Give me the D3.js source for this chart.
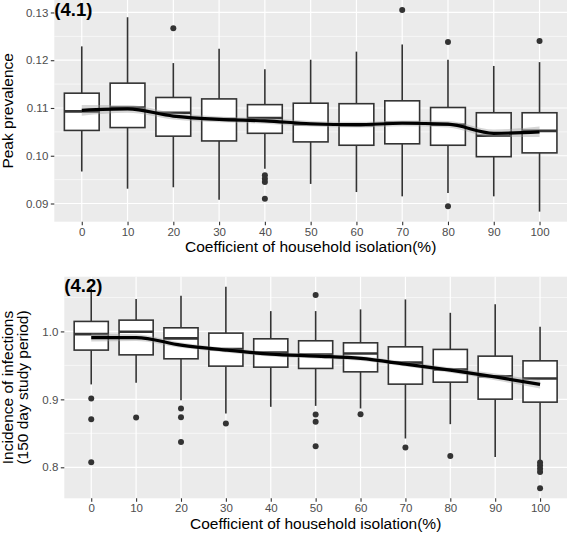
<!DOCTYPE html>
<html>
<head>
<meta charset="utf-8">
<script src="https://cdn.jsdelivr.net/npm/d3@7"></script>
<style>
  html, body { margin: 0; padding: 0; background: #ffffff; }
  svg { display: block; }
  text { font-family: "Liberation Sans", Arial, Helvetica, sans-serif; }
</style>
</head>
<body>
<div id="chart"></div>
<script>
// ---------------- DATA ----------------
const categories = ["0", "10", "20", "30", "40", "50", "60", "70", "80", "90", "100"];
const xAxisTitle = "Coefficient of household isolation(%)";

// Panel 4.1 : Peak prevalence
const peakLower   = [0.0967, 0.0931, 0.0934, 0.0908, 0.0973, 0.0941, 0.0924, 0.0915, 0.0922, 0.0915, 0.0883];
const peakQ1      = [0.1053, 0.1059, 0.1041, 0.1031, 0.1047, 0.1029, 0.1022, 0.1025, 0.1022, 0.0998, 0.1006];
const peakMedian  = [0.1093, 0.1101, 0.1090, 0.1077, 0.1079, 0.1066, 0.1064, 0.1069, 0.1065, 0.1042, 0.1052];
const peakQ3      = [0.1131, 0.1152, 0.1122, 0.1119, 0.1107, 0.1110, 0.1109, 0.1115, 0.1101, 0.1090, 0.1090];
const peakUpper   = [0.1229, 0.1290, 0.1194, 0.1224, 0.1181, 0.1201, 0.1218, 0.1233, 0.1201, 0.1188, 0.1196];
const peakOutliers = [[], [], [0.1267], [], [0.0959, 0.0952, 0.0945, 0.0910], [], [], [0.1305], [0.1238, 0.0894], [], [0.1240]];
const peakSmooth  = [0.1095, 0.1098, 0.1083, 0.1076, 0.1073, 0.1067, 0.1065, 0.1068, 0.1066, 0.1047, 0.1050];
const peakSE      = [0.0011, 0.0008, 0.0007, 0.0006, 0.0006, 0.0006, 0.0006, 0.0006, 0.0007, 0.0008, 0.0011];
const peakTicks   = [0.09, 0.10, 0.11, 0.12, 0.13];
const peakTickLabels = ["0.09", "0.10", "0.11", "0.12", "0.13"];

// Panel 4.2 : Incidence of infections
const incLower    = [0.9220, 0.9243, 0.8988, 0.8792, 0.8890, 0.8904, 0.8866, 0.8424, 0.8635, 0.8153, 0.8100];
const incQ1       = [0.9725, 0.9655, 0.9597, 0.9489, 0.9474, 0.9455, 0.9405, 0.9224, 0.9253, 0.9003, 0.8959];
const incMedian   = [0.9960, 0.9994, 0.9897, 0.9740, 0.9690, 0.9660, 0.9676, 0.9540, 0.9440, 0.9340, 0.9308];
const incQ3       = [1.0147, 1.0166, 1.0053, 0.9975, 0.9891, 0.9862, 0.9832, 0.9773, 0.9735, 0.9636, 0.9567];
const incUpper    = [1.0630, 1.0476, 1.0524, 1.0657, 1.0299, 1.0299, 1.0324, 1.0471, 1.0274, 1.0398, 1.0068];
const incOutliers = [[0.9013, 0.8708, 0.8075], [0.8733], [0.8866, 0.8738, 0.8374], [0.8645], [], [1.0535, 0.8778, 0.8670, 0.8311], [0.8782], [0.8292], [0.8168], [], [0.8070, 0.8025, 0.7980, 0.7930, 0.7692]];
const incSmooth   = [0.9910, 0.9910, 0.9798, 0.9725, 0.9666, 0.9636, 0.9602, 0.9518, 0.9430, 0.9330, 0.9220];
const incSE       = [0.0060, 0.0050, 0.0040, 0.0035, 0.0035, 0.0035, 0.0035, 0.0035, 0.0040, 0.0050, 0.0060];
const incTicks    = [0.8, 0.9, 1.0];
const incTickLabels = ["0.8", "0.9", "1.0"];

// ---------------- DRAW ----------------
const W = 567, H = 537;
const svg = d3.select("#chart").append("svg").attr("width", W).attr("height", H);

function drawPanel(cfg) {
  const g = svg.append("g");
  const { left, right, top, bottom } = cfg.box;

  const x = d3.scalePoint().domain(categories).range([left, right]).padding(0.6);
  const step = x.step();

  const allVals = [].concat(cfg.lower, cfg.upper, cfg.outliers.flat());
  const [mn, mx] = d3.extent(allVals);
  const pad = (mx - mn) * 0.05;
  const y = d3.scaleLinear().domain([mn - pad, mx + pad]).range([bottom, top]);

  // panel background
  g.append("rect").attr("x", left).attr("y", top).attr("width", right - left).attr("height", bottom - top)
    .attr("fill", "#EBEBEB");

  // minor gridlines
  const dt = cfg.ticks[1] - cfg.ticks[0];
  const minor = [];
  for (let i = -1; i < cfg.ticks.length; i++) {
    const v = cfg.ticks[0] + dt * (i + 0.5);
    if (v > y.domain()[0] && v < y.domain()[1]) minor.push(v);
  }
  g.selectAll(".minor").data(minor).join("line")
    .attr("x1", left).attr("x2", right).attr("y1", d => y(d)).attr("y2", d => y(d))
    .attr("stroke", "#FFFFFF").attr("stroke-width", 0.6);
  // major gridlines
  g.selectAll(".major").data(cfg.ticks).join("line")
    .attr("x1", left).attr("x2", right).attr("y1", d => y(d)).attr("y2", d => y(d))
    .attr("stroke", "#FFFFFF").attr("stroke-width", 1.2);
  g.selectAll(".vmajor").data(categories).join("line")
    .attr("x1", d => x(d)).attr("x2", d => x(d)).attr("y1", top).attr("y2", bottom)
    .attr("stroke", "#FFFFFF").attr("stroke-width", 1.2);

  // whiskers, boxes, medians, outliers
  const bw = step * 0.76;
  const stroke = "#333333";
  categories.forEach((c, i) => {
    const cx = x(c);
    g.append("line").attr("x1", cx).attr("x2", cx).attr("y1", y(cfg.upper[i])).attr("y2", y(cfg.q3[i]))
      .attr("stroke", stroke).attr("stroke-width", 1.6);
    g.append("line").attr("x1", cx).attr("x2", cx).attr("y1", y(cfg.q1[i])).attr("y2", y(cfg.lower[i]))
      .attr("stroke", stroke).attr("stroke-width", 1.6);
    g.append("rect").attr("x", cx - bw / 2).attr("y", y(cfg.q3[i]))
      .attr("width", bw).attr("height", y(cfg.q1[i]) - y(cfg.q3[i]))
      .attr("fill", "#FFFFFF").attr("stroke", stroke).attr("stroke-width", 1.6);
    g.append("line").attr("x1", cx - bw / 2).attr("x2", cx + bw / 2)
      .attr("y1", y(cfg.median[i])).attr("y2", y(cfg.median[i]))
      .attr("stroke", stroke).attr("stroke-width", 2.6);
    cfg.outliers[i].forEach(v => {
      g.append("circle").attr("cx", cx).attr("cy", y(v)).attr("r", 3)
        .attr("fill", stroke);
    });
  });

  // smooth ribbon + line
  const pts = categories.map((c, i) => ({ x: x(c), m: cfg.smooth[i], se: cfg.se[i] }));
  const area = d3.area().x(d => d.x).y0(d => y(d.m - d.se)).y1(d => y(d.m + d.se)).curve(d3.curveMonotoneX);
  g.append("path").attr("d", area(pts)).attr("fill", "#999999").attr("fill-opacity", 0.4);
  const line = d3.line().x(d => d.x).y(d => y(d.m)).curve(d3.curveMonotoneX);
  g.append("path").attr("d", line(pts)).attr("fill", "none").attr("stroke", "#000000").attr("stroke-width", 3.2);

  // axes
  const yAxis = d3.axisLeft(y).tickValues(cfg.ticks).tickFormat((d, i) => cfg.tickLabels[i]).tickSize(3.5).tickPadding(2.5);
  const ya = g.append("g").attr("transform", `translate(${left},0)`).call(yAxis);
  ya.select(".domain").remove();
  ya.selectAll("line").attr("stroke", "#333333").attr("stroke-width", 1.1);
  ya.selectAll("text").attr("fill", "#4D4D4D").style("font-size", "11.5px")
    .style("font-family", '"Liberation Sans", Arial, sans-serif');

  const xAxis = d3.axisBottom(x).tickSize(3.5).tickPadding(2.5);
  const xa = g.append("g").attr("transform", `translate(0,${bottom})`).call(xAxis);
  xa.select(".domain").remove();
  xa.selectAll("line").attr("stroke", "#333333").attr("stroke-width", 1.1);
  xa.selectAll("text").attr("fill", "#4D4D4D").style("font-size", "11.5px")
    .style("font-family", '"Liberation Sans", Arial, sans-serif');

  // x title
  g.append("text").attr("x", (left + right) / 2).attr("y", bottom + 25)
    .attr("text-anchor", "middle").attr("dominant-baseline", "central")
    .style("font-size", "15.5px").attr("fill", "#000000").text(xAxisTitle);

  // y title
  const cy = (top + bottom) / 2;
  const yt = g.append("text").attr("transform", `translate(${cfg.yTitleX},${cy}) rotate(-90)`)
    .attr("text-anchor", "middle").style("font-size", "15.5px").attr("fill", "#000000");
  cfg.yTitle.forEach((t, i) => {
    yt.append("tspan").attr("x", 0).attr("y", (i - (cfg.yTitle.length - 1) / 2) * 15 + 5).text(t);
  });

  // panel tag
  g.append("text").attr("x", left).attr("y", top + 15.5)
    .style("font-size", "18.5px").style("font-weight", "bold").attr("fill", "#000000").text(cfg.tag);
}

drawPanel({
  box: { left: 54.3, right: 567, top: 0, bottom: 221.7 },
  lower: peakLower, q1: peakQ1, median: peakMedian, q3: peakQ3, upper: peakUpper,
  outliers: peakOutliers, smooth: peakSmooth, se: peakSE,
  ticks: peakTicks, tickLabels: peakTickLabels,
  yTitle: ["Peak prevalence"], yTitleX: 8, tag: "(4.1)"
});

drawPanel({
  box: { left: 64.3, right: 567, top: 276.7, bottom: 498.3 },
  lower: incLower, q1: incQ1, median: incMedian, q3: incQ3, upper: incUpper,
  outliers: incOutliers, smooth: incSmooth, se: incSE,
  ticks: incTicks, tickLabels: incTickLabels,
  yTitle: ["Incidence of infections", "(150 day study period)"], yTitleX: 15, tag: "(4.2)"
});
</script>
</body>
</html>
